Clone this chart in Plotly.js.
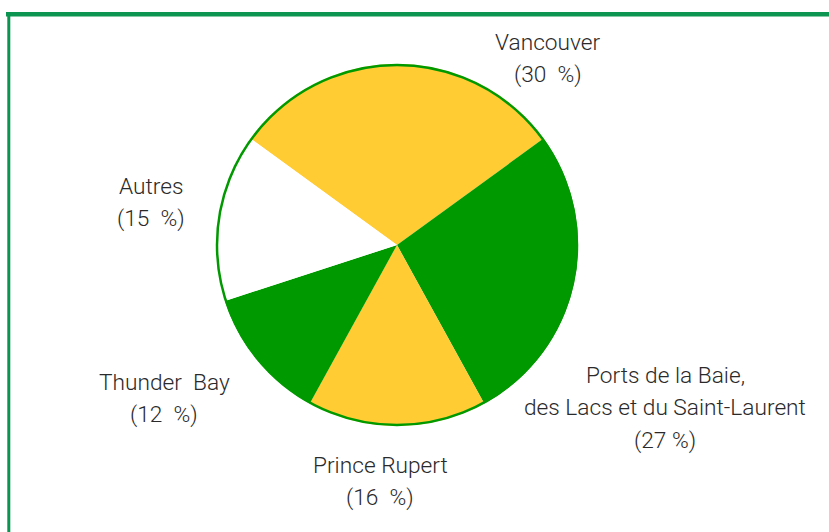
<!DOCTYPE html>
<html>
<head>
<meta charset="utf-8">
<script src="https://cdn.plot.ly/plotly-3.0.1.min.js"></script>
<style>
  html, body { margin: 0; padding: 0; background: #ffffff; }
  #chart { width: 829px; height: 532px; }
</style>
</head>
<body>
<div id="chart"></div>
<script>
// ---- data ----
const categories = ["Vancouver", "Ports de la Baie,<br>des Lacs et du Saint-Laurent", "Prince Rupert", "Thunder  Bay", "Autres"];
const shares = [30, 27, 16, 12, 15];
const percentLabels = ["(30  %)", "(27 %)", "(16  %)", "(12  %)", "(15  %)"];
const sliceColors = ["#FFCC33", "#009900", "#FFCC33", "#009900", "#FFFFFF"];

// label anchor positions (pixel centres of first line), separate from the data
const labelAnchors = [
  [548, 42], [665, 375], [380, 465], [164, 382], [151, 186]
];
const lineStep = 32.5;

const W = 829, H = 532;
const px = x => x / W;
const py = y => 1 - y / H;

const annotations = [];
categories.forEach((c, i) => {
  const lines = c.split("<br>").concat([percentLabels[i]]);
  lines.forEach((ln, j) => {
    annotations.push({
      text: ln,
      xref: "paper", yref: "paper",
      x: px(labelAnchors[i][0]), y: py(labelAnchors[i][1] + j * lineStep),
      xanchor: "center", yanchor: "middle",
      showarrow: false,
      font: { family: "Roboto, 'Open Sans', sans-serif", size: 22.7, weight: 300, color: "#2a2a2a" }
    });
  });
});

const cx = 397, cy = 245, r = 181;

const trace = {
  type: "pie",
  labels: categories,
  values: shares,
  sort: false,
  direction: "clockwise",
  rotation: -54,
  textinfo: "none",
  hoverinfo: "label+percent",
  marker: { colors: sliceColors, line: { color: "#009900", width: 0 } },
  domain: { x: [px(cx - r), px(cx + r)], y: [py(cy + r), py(cy - r)] },
  showlegend: false
};

const outline = {
  type: "circle", xref: "paper", yref: "paper",
  x0: px(cx - r + 1), x1: px(cx + r - 1), y0: py(cy + r - 1), y1: py(cy - r + 1),
  line: { color: "#009900", width: 2.5 }
};

const layout = {
  width: W, height: H,
  margin: { l: 0, r: 0, t: 0, b: 0 },
  paper_bgcolor: "#ffffff",
  annotations: annotations,
  shapes: [
    outline,
    { type: "line", xref: "paper", yref: "paper", x0: px(6), x1: 1, y0: py(14.3), y1: py(14.3),
      line: { color: "#0B9550", width: 4.5 } },
    { type: "line", xref: "paper", yref: "paper", x0: px(8.8), x1: px(8.8), y0: py(12.5), y1: 0,
      line: { color: "#0B9550", width: 3 } }
  ]
};

Plotly.newPlot("chart", [trace], layout, { displayModeBar: false, staticPlot: true });
</script>
</body>
</html>
